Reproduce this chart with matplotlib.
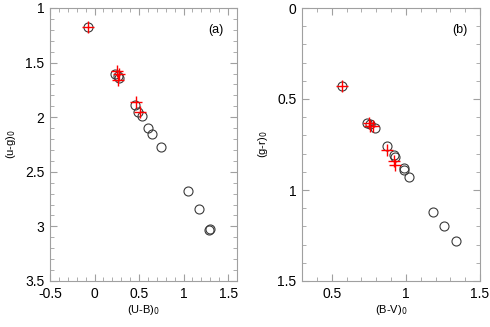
import matplotlib.pyplot as plt
from matplotlib.ticker import MultipleLocator

plt.rcParams['font.family'] = ['Liberation Sans', 'DejaVu Sans']

# panel (a): (U-B)0 vs (u-g)0
ub_circ = [-0.07, 0.23, 0.26, 0.28, 0.46, 0.49, 0.53, 0.60, 0.65, 0.75, 1.05, 1.17, 1.29, 1.30]
ug_circ = [1.17, 1.60, 1.62, 1.64, 1.89, 1.95, 1.99, 2.10, 2.15, 2.27, 2.68, 2.84, 3.03, 3.02]
ub_plus = [-0.07, 0.25, 0.27, 0.26, 0.47, 0.51]
ug_plus = [1.17, 1.58, 1.60, 1.66, 1.86, 1.95]

# panel (b): (B-V)0 vs (g-r)0
bv_circ = [0.57, 0.74, 0.76, 0.79, 0.87, 0.92, 0.93, 0.99, 0.99, 1.02, 1.18, 1.26, 1.34]
gr_circ = [0.43, 0.63, 0.64, 0.66, 0.76, 0.81, 0.82, 0.88, 0.89, 0.93, 1.12, 1.20, 1.28]
bv_plus = [0.57, 0.75, 0.76, 0.78, 0.87, 0.92, 0.93]
gr_plus = [0.43, 0.63, 0.65, 0.65, 0.78, 0.84, 0.86]

fig = plt.figure(figsize=(4.9, 3.27), dpi=100)
ax1 = fig.add_axes([50/490, 1 - 281/327, 187/490, 273/327])
ax2 = fig.add_axes([302/490, 1 - 281/327, 178/490, 273/327])

spine_col = '#a0a0a0'
for ax in (ax1, ax2):
    for s in ax.spines.values():
        s.set_color(spine_col)
        s.set_linewidth(0.8)
    ax.tick_params(which='both', direction='in', top=True, right=True,
                   color=spine_col, labelsize=10, pad=4)
    ax.tick_params(which='major', length=5, width=0.8)
    ax.tick_params(which='minor', length=3, width=0.6)

ax1.plot(ub_circ, ug_circ, 'o', mfc='none', mec='#3a3a3a', ms=6.5, mew=0.8)
ax1.plot(ub_plus, ug_plus, '+', color='red', ms=8, mew=1)
ax1.set_xlim(-0.5, 1.6)
ax1.set_ylim(3.5, 1)
ax1.xaxis.set_minor_locator(MultipleLocator(0.1))
ax1.yaxis.set_minor_locator(MultipleLocator(0.1))
ax1.set_xticks([-0.5, 0, 0.5, 1, 1.5])
ax1.set_xticklabels(['-0.5', '0', '0.5', '1', '1.5'])
ax1.set_yticks([1, 1.5, 2, 2.5, 3, 3.5])
ax1.set_yticklabels(['1', '1.5', '2', '2.5', '3', '3.5'])
ax1.set_xlabel('(U-B)$_0$', fontsize=8, labelpad=2)
ax1.set_ylabel('(u-g)$_0$', fontsize=8, labelpad=5)
ax1.text(0.93, 0.94, '(a)', transform=ax1.transAxes, ha='right', va='top', fontsize=9)

ax2.plot(bv_circ, gr_circ, 'o', mfc='none', mec='#3a3a3a', ms=6.5, mew=0.8)
ax2.plot(bv_plus, gr_plus, '+', color='red', ms=8, mew=1)
ax2.set_xlim(0.3, 1.5)
ax2.set_ylim(1.5, 0)
ax2.xaxis.set_minor_locator(MultipleLocator(0.1))
ax2.yaxis.set_minor_locator(MultipleLocator(0.1))
ax2.set_xticks([0.5, 1, 1.5])
ax2.set_xticklabels(['0.5', '1', '1.5'])
ax2.set_yticks([0, 0.5, 1, 1.5])
ax2.set_yticklabels(['0', '0.5', '1', '1.5'])
ax2.set_xlabel('(B-V)$_0$', fontsize=8, labelpad=2)
ax2.set_ylabel('(g-r)$_0$', fontsize=8, labelpad=5)
ax2.text(0.93, 0.94, '(b)', transform=ax2.transAxes, ha='right', va='top', fontsize=9)

fig.savefig('out.png', dpi=100)
